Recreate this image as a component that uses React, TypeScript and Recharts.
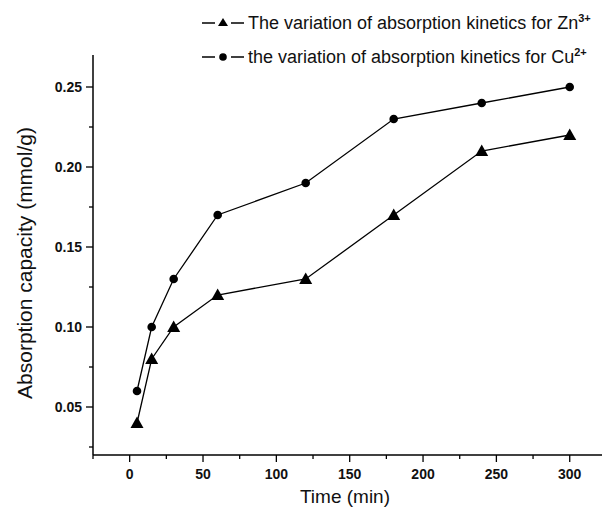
import React from 'react';
import { LineChart, Line, XAxis, YAxis, Label } from 'recharts';

const times = [5, 15, 30, 60, 120, 180, 240, 300];
const znValues = [0.04, 0.08, 0.1, 0.12, 0.13, 0.17, 0.21, 0.22];
const cuValues = [0.06, 0.1, 0.13, 0.17, 0.19, 0.23, 0.24, 0.25];
const xTicks = [-25, 0, 25, 50, 75, 100, 125, 150, 175, 200, 225, 250, 275, 300, 325];
const yTicks = [0.025, 0.05, 0.075, 0.1, 0.125, 0.15, 0.175, 0.2, 0.225, 0.25];
const seriesNames = ['The variation of absorption kinetics for Zn', 'the variation of absorption kinetics for Cu'];
const seriesSup = ['3+', '2+'];

const data = times.map((t, i) => ({ t, zn: znValues[i], cu: cuValues[i] }));

const FONT = '"Liberation Sans", Arial, sans-serif';

const XTick = (props: any) => {
  const { x, y, payload } = props;
  const v = payload.value;
  const major = v % 50 === 0;
  return (
    <g>
      <line x1={x} x2={x} y1={y} y2={y + (major ? 7 : 4)} stroke="#000" strokeWidth={1.3} />
      {major && v >= 0 && v <= 300 ? (
        <text x={x} y={y + 24} textAnchor="middle" fontSize={14} fontWeight="bold" fontFamily={FONT} fill="#111">
          {v}
        </text>
      ) : null}
    </g>
  );
};

const YTick = (props: any) => {
  const { x, y, payload } = props;
  const v = payload.value;
  const major = Math.round(v * 1000) % 50 === 0;
  return (
    <g>
      <line x1={x} x2={x - (major ? 7 : 4)} y1={y} y2={y} stroke="#000" strokeWidth={1.3} />
      {major ? (
        <text x={x - 11} y={y + 5} textAnchor="end" fontSize={14} fontWeight="bold" fontFamily={FONT} fill="#111">
          {v.toFixed(2)}
        </text>
      ) : null}
    </g>
  );
};

const Triangle = (props: any) => {
  const { cx, cy } = props;
  if (cx == null || cy == null) return null;
  const s = 6.5;
  return <polygon points={`${cx},${cy - s} ${cx - s},${cy + s * 0.75} ${cx + s},${cy + s * 0.75}`} fill="#000" />;
};

const Circle = (props: any) => {
  const { cx, cy } = props;
  if (cx == null || cy == null) return null;
  return <circle cx={cx} cy={cy} r={4.3} fill="#000" />;
};

const LegendRow = ({ idx }: { idx: number }) => (
  <div style={{ display: 'flex', alignItems: 'center', height: 34 }}>
    <svg width={46} height={20} style={{ marginRight: 2 }}>
      <line x1={2} x2={44} y1={10} y2={10} stroke="#000" strokeWidth={1.5} />
      <rect x={15} y={4} width={16} height={12} fill="#fff" />
      {idx === 0 ? (
        <polygon points="23,5 18,13 28,13" fill="#000" />
      ) : (
        <circle cx={23} cy={10} r={3.8} fill="#000" />
      )}
    </svg>
    <span style={{ fontFamily: FONT, fontSize: 18, color: '#111', whiteSpace: 'nowrap' }}>
      {seriesNames[idx]}
      <sup style={{ fontSize: 11, fontWeight: 'bold' }}>{seriesSup[idx]}</sup>
    </span>
  </div>
);

export default function App() {
  return (
    <div style={{ position: 'absolute', left: 0, top: 0, width: 616, height: 513, background: '#fff' }}>
      <LineChart
        width={616}
        height={513}
        data={data}
        margin={{ top: 55, right: 14, bottom: 28, left: 33 }}
      >
        <XAxis
          dataKey="t"
          type="number"
          domain={[-25, 322]}
          ticks={xTicks.filter((v) => v <= 322)}
          tick={<XTick />}
          tickLine={false}
          tickSize={0}
          tickMargin={0}
          height={30}
          axisLine={{ stroke: '#000', strokeWidth: 1.5 }}
          interval={0}
        >
          <Label
            content={() => (
              <text x={345} y={503} textAnchor="middle" fontSize={19} fontFamily={FONT} fill="#111">
                Time (min)
              </text>
            )}
          />
        </XAxis>
        <YAxis
          type="number"
          domain={[0.02, 0.27]}
          ticks={yTicks}
          tick={<YTick />}
          tickLine={false}
          tickSize={0}
          tickMargin={0}
          width={60}
          axisLine={{ stroke: '#000', strokeWidth: 1.5 }}
          interval={0}
        >
          <Label
            content={() => (
              <text
                x={32}
                y={263}
                transform="rotate(-90, 32, 263)"
                textAnchor="middle"
                fontSize={21}
                fontFamily={FONT}
                fill="#111"
              >
                Absorption capacity (mmol/g)
              </text>
            )}
          />
        </YAxis>
        <Line
          dataKey="zn"
          stroke="#000"
          strokeWidth={1.3}
          dot={<Triangle />}
          isAnimationActive={false}
        />
        <Line
          dataKey="cu"
          stroke="#000"
          strokeWidth={1.3}
          dot={<Circle />}
          isAnimationActive={false}
        />
      </LineChart>
      <div style={{ position: 'absolute', left: 200, top: 6 }}>
        <LegendRow idx={0} />
        <LegendRow idx={1} />
      </div>
    </div>
  );
}
